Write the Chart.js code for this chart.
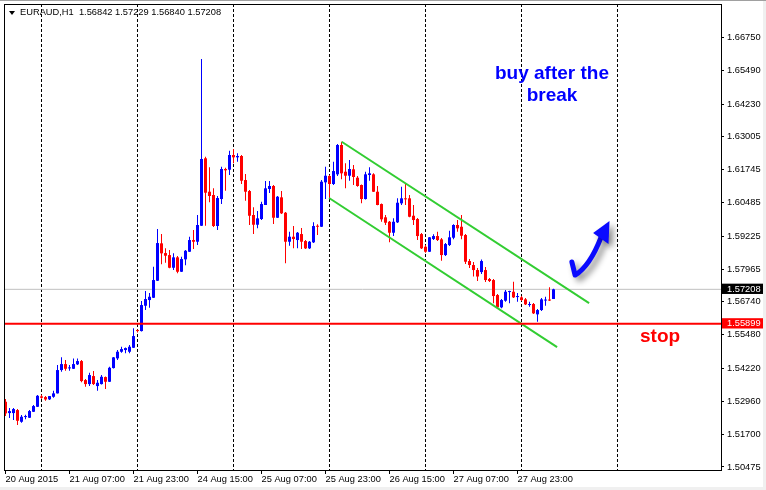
<!DOCTYPE html>
<html>
<head>
<meta charset="utf-8">
<title>EURAUD,H1</title>
<script src="https://cdn.jsdelivr.net/npm/chart.js@4.4.0/dist/chart.umd.min.js"></script>
<style>
  body { margin: 0; background: #fff; }
  #wrap { position: relative; width: 766px; height: 490px; overflow: hidden; font-family: "Liberation Sans", Arial, sans-serif; }
  #wrap canvas { position: absolute; left: 0; top: 0; }
  .edge { position: absolute; background: #f0f0f0; }
  #title { position: absolute; left: 20px; top: 8px; font-size: 9.3px; line-height: 1; white-space: pre; color: #000; }
  #tri { position: absolute; left: 9px; top: 11px; width: 0; height: 0; border-left: 3px solid transparent; border-right: 3px solid transparent; border-top: 4px solid #000; }
  .note { position: absolute; font-weight: bold; font-size: 19px; white-space: nowrap; }
  #buy { left: 472px; top: 62px; width: 160px; text-align: center; line-height: 21.5px; color: #0000ff; }
  #stop { left: 640px; top: 326px; line-height: 19px; color: #ff0000; }
</style>
</head>
<body>
<div id="wrap">
  <canvas id="chart" width="766" height="490"></canvas>
  <div class="edge" style="left:0;top:0;width:766px;height:1px;background:#a0a0a0"></div>
  <div class="edge" style="left:763px;top:1px;width:3px;height:489px"></div>
  <div class="edge" style="left:0;top:487px;width:766px;height:3px"></div>
  <div id="tri"></div>
  <div id="title">EURAUD,H1  1.56842 1.57229 1.56840 1.57208</div>
  <div class="note" id="buy">buy after the<br>break</div>
  <div class="note" id="stop">stop</div>
</div>
<script>
// EURAUD H1 bars, 20 Aug 2015 15:00 .. 27 Aug 2015 (one entry per hour)
const opens = [
  1.52947, 1.52518, 1.52518, 1.52632, 1.52189, 1.52367, 1.52341, 1.52568, 1.52757, 1.53151,
  1.53125, 1.53038, 1.53136, 1.53265, 1.54148, 1.54375, 1.54212, 1.54197, 1.54364, 1.54489,
  1.53769, 1.53617, 1.53921, 1.53542, 1.53617, 1.53883, 1.53705, 1.54224, 1.54591, 1.54842,
  1.54906, 1.54842, 1.54993, 1.55664, 1.55626, 1.56585, 1.56801, 1.56888, 1.57533, 1.58950,
  1.58582, 1.58506, 1.58025, 1.58419, 1.57874, 1.58344, 1.58632, 1.59075, 1.59011, 1.59617,
  1.62172, 1.60906, 1.60781, 1.59606, 1.60629, 1.61766, 1.61740, 1.62297, 1.62209, 1.62259,
  1.61349, 1.60932, 1.60023, 1.59655, 1.59871, 1.60402, 1.61008, 1.61122, 1.59920, 1.60693,
  1.60110, 1.59011, 1.59201, 1.59075, 1.59302, 1.59037, 1.58760, 1.58988, 1.59617, 1.59579,
  1.61262, 1.61501, 1.61198, 1.61565, 1.62676, 1.61664, 1.61512, 1.61755, 1.61437, 1.61160,
  1.60629, 1.61539, 1.61565, 1.60906, 1.60439, 1.59936, 1.59768, 1.59352, 1.59746, 1.60466,
  1.60656, 1.60656, 1.59996, 1.59871, 1.59302, 1.58821, 1.58632, 1.59113, 1.59227, 1.59101,
  1.58506, 1.58885, 1.59163, 1.59644, 1.59579, 1.59265, 1.58279, 1.58128, 1.57938, 1.57862,
  1.57938, 1.57597, 1.57559, 1.56991, 1.56524, 1.56775, 1.57104, 1.57116, 1.56914, 1.56903,
  1.56828, 1.56612, 1.56650, 1.56259, 1.56422, 1.56782, 1.56820, 1.56842
];
const highs = [
  1.53049, 1.52708, 1.52708, 1.52670, 1.52443, 1.52455, 1.52632, 1.52822, 1.53200, 1.53211,
  1.53162, 1.53162, 1.53363, 1.54338, 1.54629, 1.54527, 1.54338, 1.54591, 1.54591, 1.54527,
  1.53807, 1.54046, 1.54110, 1.53769, 1.53959, 1.53902, 1.54273, 1.54640, 1.54906, 1.55032,
  1.55007, 1.55096, 1.55729, 1.55689, 1.56763, 1.57142, 1.57066, 1.58063, 1.59492, 1.59302,
  1.58760, 1.58696, 1.58571, 1.58469, 1.58442, 1.58696, 1.59200, 1.59454, 1.60022, 1.65935,
  1.62232, 1.61830, 1.61034, 1.60743, 1.61853, 1.61815, 1.62460, 1.62524, 1.62361, 1.62297,
  1.61577, 1.60970, 1.60314, 1.60174, 1.60527, 1.61311, 1.61311, 1.61160, 1.60743, 1.60932,
  1.60136, 1.59390, 1.59606, 1.59378, 1.59530, 1.59075, 1.59037, 1.59746, 1.59670, 1.61349,
  1.61853, 1.61539, 1.62043, 1.62714, 1.62801, 1.61982, 1.62107, 1.61918, 1.61501, 1.61179,
  1.61664, 1.61830, 1.61603, 1.61122, 1.60458, 1.60023, 1.59795, 1.59897, 1.60656, 1.61095,
  1.61224, 1.60781, 1.60402, 1.59909, 1.59340, 1.58886, 1.59190, 1.59291, 1.59390, 1.59151,
  1.58961, 1.59428, 1.59670, 1.59833, 1.60023, 1.59302, 1.58355, 1.58241, 1.58014, 1.58336,
  1.58052, 1.57635, 1.57597, 1.57029, 1.56839, 1.57180, 1.57155, 1.57495, 1.57066, 1.56953,
  1.56876, 1.56737, 1.56688, 1.56460, 1.56876, 1.56926, 1.57283, 1.57229
];
const lows = [
  1.52405, 1.52329, 1.52253, 1.52064, 1.52151, 1.52280, 1.52329, 1.52556, 1.52746, 1.53060,
  1.52984, 1.53011, 1.53098, 1.53257, 1.54084, 1.54122, 1.54122, 1.54186, 1.54338, 1.53682,
  1.53516, 1.53542, 1.53579, 1.53363, 1.53598, 1.53428, 1.53693, 1.54205, 1.54527, 1.54804,
  1.54781, 1.54781, 1.54982, 1.55576, 1.55607, 1.56422, 1.56509, 1.56876, 1.57521, 1.58154,
  1.58215, 1.58002, 1.57938, 1.57813, 1.57862, 1.58116, 1.58620, 1.58734, 1.58885, 1.59605,
  1.59617, 1.60504, 1.59568, 1.59454, 1.60439, 1.60944, 1.61539, 1.61982, 1.62043, 1.61197,
  1.60565, 1.59644, 1.59302, 1.59519, 1.59833, 1.60402, 1.60856, 1.59682, 1.59909, 1.60061,
  1.58192, 1.58859, 1.58760, 1.58760, 1.58734, 1.58734, 1.58734, 1.58961, 1.59265, 1.59568,
  1.60629, 1.60656, 1.61160, 1.61501, 1.61376, 1.61035, 1.61323, 1.61160, 1.61095, 1.60466,
  1.60610, 1.61323, 1.60894, 1.60390, 1.59768, 1.59644, 1.58992, 1.59227, 1.59719, 1.60402,
  1.60402, 1.59936, 1.59644, 1.59075, 1.58734, 1.58594, 1.58620, 1.59075, 1.59037, 1.58291,
  1.58468, 1.58847, 1.59101, 1.59390, 1.59101, 1.58166, 1.58014, 1.57693, 1.57527, 1.57787,
  1.57483, 1.57483, 1.56676, 1.56460, 1.56489, 1.56733, 1.56676, 1.56876, 1.56737, 1.56763,
  1.56612, 1.56548, 1.56271, 1.55978, 1.56384, 1.56585, 1.56763, 1.56840
];
const closes = [
  1.52507, 1.52594, 1.52670, 1.52227, 1.52379, 1.52405, 1.52594, 1.52784, 1.53173, 1.53098,
  1.53034, 1.53162, 1.53265, 1.54148, 1.54375, 1.54197, 1.54235, 1.54375, 1.54489, 1.53731,
  1.53617, 1.53959, 1.53617, 1.53667, 1.53894, 1.53705, 1.54235, 1.54629, 1.54842, 1.54944,
  1.54982, 1.55032, 1.55437, 1.55626, 1.56612, 1.56839, 1.56926, 1.57559, 1.58961, 1.58571,
  1.58480, 1.58025, 1.58419, 1.57874, 1.58355, 1.58669, 1.59075, 1.59011, 1.59644, 1.62145,
  1.60868, 1.60743, 1.59606, 1.60667, 1.61766, 1.61717, 1.62297, 1.62209, 1.62259, 1.61323,
  1.60906, 1.59996, 1.59655, 1.59897, 1.60439, 1.61034, 1.61122, 1.59920, 1.60716, 1.60087,
  1.59011, 1.59201, 1.59113, 1.59352, 1.59011, 1.58760, 1.59011, 1.59606, 1.59579, 1.61285,
  1.61512, 1.61198, 1.61690, 1.62676, 1.61603, 1.61512, 1.61766, 1.61463, 1.61122, 1.60629,
  1.61565, 1.61603, 1.60906, 1.60402, 1.59860, 1.59731, 1.59352, 1.59768, 1.60489, 1.60656,
  1.60618, 1.59958, 1.59833, 1.59227, 1.58760, 1.58632, 1.59178, 1.59227, 1.59075, 1.58506,
  1.58923, 1.59178, 1.59644, 1.59519, 1.59238, 1.58253, 1.58128, 1.57938, 1.57693, 1.58279,
  1.57559, 1.57521, 1.56953, 1.56524, 1.56801, 1.57116, 1.57142, 1.56903, 1.56953, 1.56801,
  1.56638, 1.56650, 1.56297, 1.56422, 1.56828, 1.56801, 1.56782, 1.57208
];

// time axis: labels every 16 bars, dotted grid at each day start
const xLabelIdx = [0, 16, 32, 48, 64, 80, 96, 112, 128];
const xLabels = ['20 Aug 2015', '21 Aug 07:00', '21 Aug 23:00', '24 Aug 15:00', '25 Aug 07:00',
                 '25 Aug 23:00', '26 Aug 15:00', '27 Aug 07:00', '27 Aug 23:00'];
const dayIdx = [9, 33, 57, 81, 105, 129, 153];

// price axis
const yTicks = [1.66750, 1.65490, 1.64230, 1.63005, 1.61745, 1.60485, 1.59225,
                1.57965, 1.56740, 1.55480, 1.54220, 1.52960, 1.51700, 1.50475];
const lastPrice = 1.57208;
const stopLevel = 1.55899;

// hand drawn channel (bar index, price)
const channelTopX = [84.05, 145.9];
const channelTopY = [1.62800, 1.56687];
const channelLowX = [80.9, 137.9];
const channelLowY = [1.60667, 1.55020];

// blue arrow (bar index, price): shaft points, then head tip/left/right
const arrowX = [141.6, 142.4, 146.1, 148.9];
const arrowY = [1.58241, 1.57749, 1.58090, 1.59189];
const headX = [151.0, 146.9, 150.75];
const headY = [1.59795, 1.59340, 1.58924];

const xMin = -0.375, xMax = 178.875;
const yMin = 1.503612, yMax = 1.680194;
const FONT = 'Liberation Sans';

const idx = opens.map((_, i) => i);
const candleColor = idx.map(i => closes[i] >= opens[i] ? '#0000ff' : '#ff0000');
const special = v => v === lastPrice || v === stopLevel;

const framePlugin = {
    id: 'frame',
    afterDraw(chart) {
        const a = chart.chartArea, c = chart.ctx;
        c.save();
        c.strokeStyle = '#000';
        c.lineWidth = 1;
        c.strokeRect(a.left + 0.5, a.top + 0.5, a.right - a.left, a.bottom - a.top);
        c.restore();
    }
};

const arrowPlugin = {
    id: 'arrow',
    afterDatasetsDraw(chart) {
        const xs = chart.scales.x, ys = chart.scales.y, c = chart.ctx;
        const p = arrowX.map((x, k) => [xs.getPixelForValue(x), ys.getPixelForValue(arrowY[k])]);
        const h = headX.map((x, k) => [xs.getPixelForValue(x), ys.getPixelForValue(headY[k])]);
        c.save();
        c.shadowColor = 'rgba(0,0,0,0.45)';
        c.shadowBlur = 6;
        c.shadowOffsetX = 4;
        c.shadowOffsetY = 4;
        c.strokeStyle = '#0a0aff';
        c.fillStyle = '#0a0aff';
        c.lineWidth = 5;
        c.lineCap = 'round';
        c.lineJoin = 'round';
        c.beginPath();
        c.moveTo(p[0][0], p[0][1]);
        c.lineTo(p[1][0], p[1][1]);
        c.quadraticCurveTo(p[2][0], p[2][1], p[3][0], p[3][1]);
        c.stroke();
        c.beginPath();
        c.moveTo(h[0][0], h[0][1]);
        c.lineTo(h[1][0], h[1][1]);
        c.lineTo(h[2][0], h[2][1]);
        c.closePath();
        c.fill();
        c.restore();
    }
};

new Chart(document.getElementById('chart'), {
    type: 'bar',
    data: {
        datasets: [
            {
                type: 'line', label: 'stop',
                data: [{ x: xMin, y: stopLevel }, { x: xMax, y: stopLevel }],
                borderColor: '#ff0000', borderWidth: 2, pointRadius: 0, order: 0
            },
            {
                type: 'line', label: 'channel top',
                data: channelTopX.map((x, k) => ({ x: x, y: channelTopY[k] })),
                borderColor: '#32cd32', borderWidth: 2, pointRadius: 0, order: 1
            },
            {
                type: 'line', label: 'channel bottom',
                data: channelLowX.map((x, k) => ({ x: x, y: channelLowY[k] })),
                borderColor: '#32cd32', borderWidth: 2, pointRadius: 0, order: 1
            },
            {
                label: 'bodies',
                data: idx.map(i => ({ x: i, y: [opens[i], closes[i]] })),
                backgroundColor: candleColor, barThickness: 3, minBarLength: 1,
                grouped: false, inflateAmount: 0, order: 2
            },
            {
                label: 'wicks',
                data: idx.map(i => ({ x: i, y: [lows[i], highs[i]] })),
                backgroundColor: candleColor, barThickness: 1, minBarLength: 1,
                grouped: false, inflateAmount: 0, order: 3
            },
            {
                type: 'line', label: 'bid',
                data: [{ x: xMin, y: lastPrice }, { x: xMax, y: lastPrice }],
                borderColor: '#c0c0c0', borderWidth: 1, pointRadius: 0, order: 4
            }
        ]
    },
    options: {
        responsive: false,
        animation: false,
        devicePixelRatio: 1,
        layout: { padding: { left: 4, top: 4, right: 0, bottom: 0 } },
        plugins: { legend: { display: false }, tooltip: { enabled: false } },
        scales: {
            x: {
                type: 'linear', min: xMin, max: xMax, offset: false,
                afterBuildTicks: s => { s.ticks = xLabelIdx.concat(dayIdx).sort((a, b) => a - b).map(v => ({ value: v })); },
                afterFit: s => { s.height = 20; s.paddingLeft = 0; s.paddingRight = 0; },
                border: { display: false, dash: [3, 2] },
                grid: {
                    offset: false, drawOnChartArea: true, drawTicks: true, tickLength: 4, lineWidth: 1,
                    color: c => (c.tick && dayIdx.includes(c.tick.value)) ? '#000' : 'rgba(0,0,0,0)',
                    tickColor: c => (c.tick && xLabelIdx.includes(c.tick.value)) ? '#000' : 'rgba(0,0,0,0)'
                },
                ticks: {
                    autoSkip: false, maxRotation: 0, minRotation: 0, align: 'start', padding: 1,
                    color: '#000', font: { family: FONT, size: 9.3, lineHeight: 1 },
                    callback: v => { const k = xLabelIdx.indexOf(v); return k < 0 ? '' : xLabels[k]; }
                }
            },
            y: {
                type: 'linear', position: 'right', min: yMin, max: yMax,
                afterBuildTicks: s => { s.ticks = yTicks.concat([lastPrice, stopLevel]).sort((a, b) => b - a).map(v => ({ value: v })); },
                afterFit: s => { s.width = 45; s.paddingTop = 0; s.paddingBottom = 0; },
                border: { display: false },
                grid: {
                    offset: false, drawOnChartArea: false, drawTicks: true, tickLength: 3,
                    tickColor: c => (c.tick && special(c.tick.value)) ? 'rgba(0,0,0,0)' : '#000'
                },
                ticks: {
                    autoSkip: false, padding: 3,
                    font: { family: FONT, size: 9.3, lineHeight: 1 },
                    color: c => special(c.tick.value) ? '#fff' : '#000',
                    showLabelBackdrop: c => special(c.tick.value),
                    backdropColor: c => c.tick.value === lastPrice ? '#000' : '#ff0000',
                    backdropPadding: { left: 5, right: 3, top: 1, bottom: 0 },
                    callback: v => v.toFixed(5)
                }
            }
        }
    },
    plugins: [framePlugin, arrowPlugin]
});
</script>
</body>
</html>
